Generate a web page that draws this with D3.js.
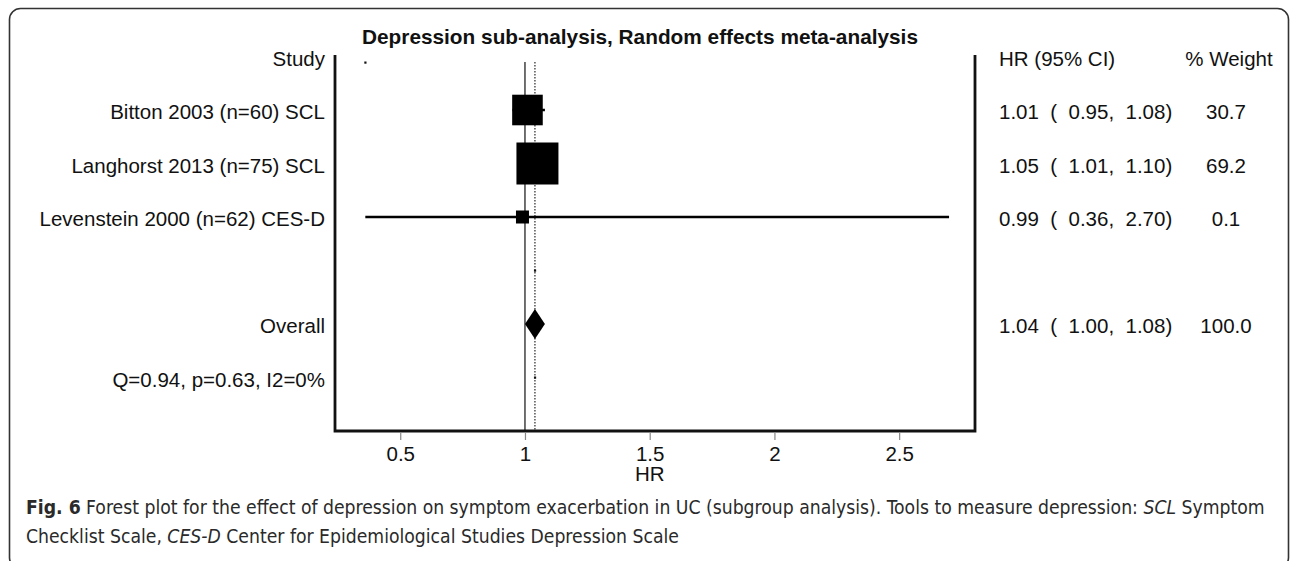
<!DOCTYPE html>
<html lang="en">
<head>
<meta charset="UTF-8">
<title>Depression sub-analysis forest plot</title>
<style>
    body { margin: 0; padding: 0; background: #ffffff; }
    svg { display: block; }
    .plot-text { font-family: "Liberation Sans", Arial, sans-serif; font-size: 20.5px; fill: #111; }
    .caption { font-family: "Liberation Sans Narrow", "DejaVu Sans Condensed", "Open Sans", sans-serif; fill: #2a2a2a; }
</style>
</head>
<body>
<div id="chart"></div>
<script src="https://d3js.org/d3.v7.min.js"></script>
<script>
    // study rows
    const studies = ["Bitton 2003 (n=60) SCL", "Langhorst 2013 (n=75) SCL", "Levenstein 2000 (n=62) CES-D"];
    const hr = [1.01, 1.05, 0.99];
    const lower = [0.95, 1.01, 0.36];
    const upper = [1.08, 1.10, 2.70];
    const weight = [30.7, 69.2, 0.1];

    // pooled estimate
    const overallHr = 1.04;
    const overallLower = 1.00;
    const overallUpper = 1.08;
    const overallWeight = 100.0;
    const heterogeneity = "Q=0.94, p=0.63, I2=0%";

    const xTicks = [0.5, 1, 1.5, 2, 2.5];
    const title = "Depression sub-analysis, Random effects meta-analysis";

    const width = 1290, height = 561;
    const svg = d3.select("#chart").append("svg")
        .attr("width", width)
        .attr("height", height);

    // rounded figure frame
    svg.append("rect")
        .attr("x", 9.5).attr("y", 8.5)
        .attr("width", 1279).attr("height", 560)
        .attr("rx", 11)
        .attr("fill", "none")
        .attr("stroke", "#333")
        .attr("stroke-width", 1.6);

    const plotLeft = 335, plotRight = 975, plotTop = 55, plotBottom = 431;
    const x = d3.scaleLinear().domain([0.2385, 2.804]).range([plotLeft, plotRight]);
    const y = d3.scaleLinear().domain([0, 6]).range([56.5, 377.5]);
    const boxSize = d3.scalePow().exponent(0.39).domain([0, 69.2]).range([0, 42]);

    // title
    svg.append("text")
        .attr("class", "plot-text")
        .attr("x", 640).attr("y", 37)
        .attr("dy", "0.35em")
        .attr("text-anchor", "middle")
        .style("font-weight", "bold")
        .style("font-size", "20.8px")
        .text(title);

    // reference lines
    svg.append("line")
        .attr("x1", x(1)).attr("x2", x(1))
        .attr("y1", 62).attr("y2", plotBottom)
        .attr("stroke", "#333").attr("stroke-width", 1.4);
    svg.append("line")
        .attr("x1", x(overallHr)).attr("x2", x(overallHr))
        .attr("y1", 62).attr("y2", plotBottom)
        .attr("stroke", "#111").attr("stroke-width", 1.1)
        .attr("stroke-dasharray", "1.5,1.5");

    // frame of the plot area
    svg.append("path")
        .attr("d", `M${plotLeft},${plotTop}V${plotBottom}H${plotRight}V${plotTop}`)
        .attr("fill", "none")
        .attr("stroke", "#111")
        .attr("stroke-width", 2.8);

    // left labels
    const leftLabels = ["Study"].concat(studies, [""], ["Overall"], [heterogeneity]);
    svg.append("g").selectAll("text")
        .data(leftLabels)
        .enter().append("text")
        .attr("class", "plot-text")
        .attr("x", 325)
        .attr("y", (d, i) => y(i) + 2)
        .attr("dy", "0.35em")
        .attr("text-anchor", "end")
        .text(d => d);

    // right columns
    const fmt = d3.format(".2f");
    const ciText = (h, l, u) => `${fmt(h)}  (  ${fmt(l)},  ${fmt(u)})`;
    const rightRows = [{ci: "HR (95% CI)", w: "% Weight", row: 0}]
        .concat(studies.map((s, i) => ({ci: ciText(hr[i], lower[i], upper[i]), w: d3.format(".1f")(weight[i]), row: i + 1})))
        .concat([{ci: ciText(overallHr, overallLower, overallUpper), w: d3.format(".1f")(overallWeight), row: 5}]);

    const rightG = svg.append("g");
    rightG.selectAll("text.ci")
        .data(rightRows)
        .enter().append("text")
        .attr("class", "plot-text ci")
        .attr("x", 999)
        .attr("y", d => y(d.row) + 2)
        .attr("dy", "0.35em")
        .style("white-space", "pre")
        .text(d => d.ci);
    rightG.selectAll("text.w")
        .data(rightRows)
        .enter().append("text")
        .attr("class", "plot-text w")
        .attr("x", d => d.row === 0 ? 1229 : 1226)
        .attr("y", d => y(d.row) + 2)
        .attr("dy", "0.35em")
        .attr("text-anchor", "middle")
        .text(d => d.w);

    // whiskers and boxes
    const studyG = svg.append("g");
    studyG.selectAll("line")
        .data(studies)
        .enter().append("line")
        .attr("x1", (d, i) => x(lower[i]))
        .attr("x2", (d, i) => x(upper[i]))
        .attr("y1", (d, i) => y(i + 1))
        .attr("y2", (d, i) => y(i + 1))
        .attr("stroke", "#000")
        .attr("stroke-width", 2.6);
    studyG.selectAll("rect")
        .data(studies)
        .enter().append("rect")
        .attr("x", (d, i) => x(hr[i]) - Math.max(13, boxSize(weight[i])) / 2)
        .attr("y", (d, i) => y(i + 1) - Math.max(13, boxSize(weight[i])) / 2)
        .attr("width", (d, i) => Math.max(13, boxSize(weight[i])))
        .attr("height", (d, i) => Math.max(13, boxSize(weight[i])))
        .attr("fill", "#000");

    // pooled diamond
    const yo = y(5);
    svg.append("path")
        .attr("d", `M${x(overallLower)},${yo}L${x(overallHr)},${yo - 15}L${x(overallUpper)},${yo}L${x(overallHr)},${yo + 15}Z`)
        .attr("fill", "#000");

    // small plotted points on empty rows
    svg.append("rect")
        .attr("x", x(lower[2]) - 1).attr("y", y(0) + 5)
        .attr("width", 2.2).attr("height", 2.2).attr("fill", "#111");
    svg.append("g").selectAll("rect")
        .data([4, 6])
        .enter().append("rect")
        .attr("x", x(overallHr) - 1).attr("y", d => y(d) - 1)
        .attr("width", 2.2).attr("height", 2.2).attr("fill", "#111");

    // x axis
    const axis = svg.append("g")
        .attr("transform", `translate(0,${plotBottom + 2})`)
        .call(d3.axisBottom(x).tickValues(xTicks).tickSize(7).tickPadding(6).tickFormat(d3.format("")));
    axis.select(".domain").remove();
    axis.selectAll(".tick line").attr("stroke", "#888").attr("stroke-width", 1.2);
    axis.selectAll(".tick text")
        .attr("class", "plot-text")
        .style("font-size", "20.5px")
        .attr("fill", "#111");

    svg.append("text")
        .attr("class", "plot-text")
        .attr("x", x(1.5)).attr("y", 474)
        .attr("dy", "0.35em")
        .attr("text-anchor", "middle")
        .text("HR");

    // caption
    const captionLines = [
        [["Fig. 6", "bold"], [" Forest plot for the effect of depression on symptom exacerbation in UC (subgroup analysis). Tools to measure depression: ", ""], ["SCL", "italic"], [" Symptom", ""]],
        [["Checklist Scale, ", ""], ["CES-D", "italic"], [" Center for Epidemiological Studies Depression Scale", ""]]
    ];
    const captionG = svg.append("g");
    const capTexts = captionG.selectAll("text")
        .data(captionLines)
        .enter().append("text")
        .attr("class", "caption")
        .attr("x", 26)
        .attr("y", (d, i) => 514 + i * 29)
        .style("font-size", "19px");
    capTexts.selectAll("tspan")
        .data(d => d)
        .enter().append("tspan")
        .style("font-weight", d => d[1] === "bold" ? "bold" : null)
        .style("font-style", d => d[1] === "italic" ? "italic" : null)
        .style("white-space", "pre")
        .text(d => d[0]);
    // fit first caption line to its width in the figure
    const natural = capTexts.node().getComputedTextLength();
    const fs = 19 * 1240 / natural;
    capTexts.style("font-size", fs + "px");
</script>
</body>
</html>
